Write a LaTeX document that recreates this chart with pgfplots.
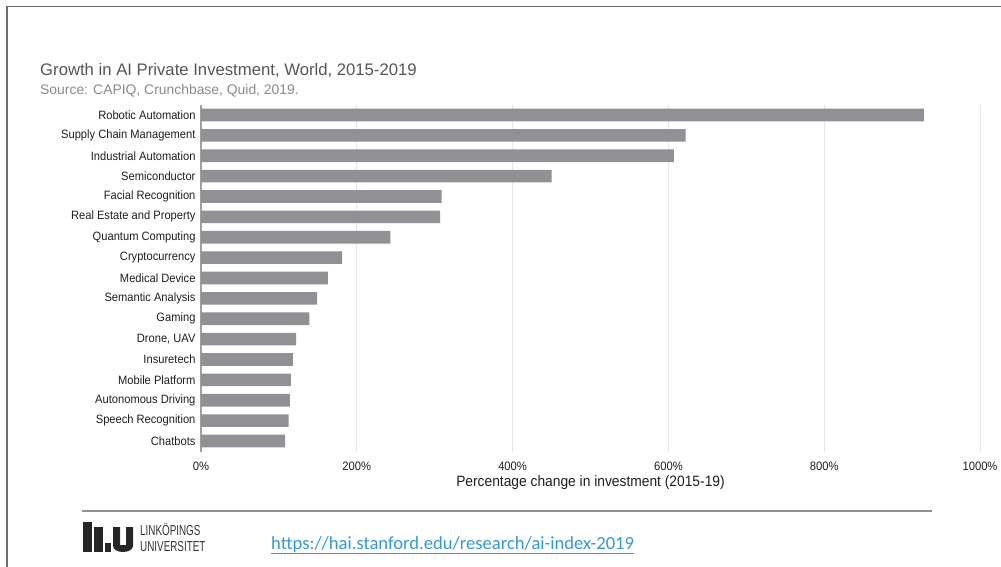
\documentclass[border=0pt]{standalone}
\usepackage{pgfplots}
\pgfplotsset{compat=1.18}
\usepackage{fontspec}
\setmainfont{Liberation Sans}
\newfontfamily\lblfont[FakeStretch=0.92]{Liberation Sans}
\newfontfamily\urlfont{Carlito}
\definecolor{bargray}{HTML}{909095}
\definecolor{gridgray}{HTML}{E6E6E6}
\definecolor{axisgray}{HTML}{A0A0A0}
\definecolor{titlegray}{HTML}{555555}
\definecolor{srcgray}{HTML}{8A8A8A}
\definecolor{labelblack}{HTML}{1E1E1E}
\definecolor{framegray}{HTML}{6E6E6E}
\definecolor{urlblue}{HTML}{3399D6}
\begin{document}
\begin{tikzpicture}
\useasboundingbox (0pt,0pt) rectangle (1001pt,-567pt);
% slide frame
\draw[framegray, line width=1.4pt] (7pt,-567pt) -- (7pt,-6.5pt) -- (1001pt,-6.5pt);
% title and source
\node[anchor=base west, inner sep=0, text=titlegray] at (40pt,-76pt)
  {\fontsize{16.7}{20}\selectfont Growth in AI Private Investment, World, 2015-2019};
\node[anchor=base west, inner sep=0, text=srcgray] at (40pt,-95pt)
  {\fontsize{13.9}{16}\selectfont Source: CAPIQ, Crunchbase, Quid, 2019.};
\begin{axis}[
  scale only axis,
  width=779pt, height=347pt,
  at={(201pt,-452pt)}, anchor=south west,
  xbar, bar width=12.7pt,
  xmin=0, xmax=1000,
  ymin=-0.54, ymax=16.49,
  xtick={0,200,400,600,800,1000},
  xticklabel={\pgfmathprintnumber[assume math mode=true, 1000 sep={}]{\tick}\%},
  xticklabel style={anchor=center, yshift=-14pt, font=\lblfont\fontsize{12.2}{13}\selectfont, text=labelblack},
  ytick={0,...,16},
  yticklabels={Chatbots,Speech Recognition,Autonomous Driving,Mobile Platform,Insuretech,{Drone, UAV},Gaming,Semantic Analysis,Medical Device,Cryptocurrency,Quantum Computing,Real Estate and Property,Facial Recognition,Semiconductor,Industrial Automation,Supply Chain Management,Robotic Automation},
  yticklabel style={font=\lblfont\fontsize{12.1}{13}\selectfont, text=labelblack, xshift=-2pt},
  major tick length=0pt,
  tick style={draw=none},
  axis line style={draw=none},
  xmajorgrids,
  grid style={gridgray, line width=1pt},
  extra x ticks={0},
  extra x tick labels={},
  extra x tick style={grid style={axisgray, line width=1.1pt}},
  xlabel={Percentage change in investment (2015-19)},
  xlabel style={at={(axis description cs:0.5,0)}, anchor=center, yshift=-31pt, font=\lblfont\fontsize{15}{16}\selectfont, text=labelblack},
  clip=false,
]
\addplot[fill=bargray, draw=none] coordinates {
 (108,0) (112.5,1) (114,2) (115.5,3) (118,4) (122,5) (139,6) (149,7) (163,8)
 (181,9) (243,10) (307,11) (309,12) (450,13) (607,14) (622,15) (928,16)
};
\end{axis}
% footer
\draw[axisgray!90!black, line width=1.2pt] (82pt,-511pt) -- (932pt,-511pt);
% logo
\fill[black!85] (83pt,-522pt) rectangle (92pt,-552pt);
\fill[black!85] (94pt,-527pt) rectangle (103pt,-552pt);
\fill[black!85] (105pt,-543pt) rectangle (111pt,-552pt);
\fill[black!85, even odd rule] (113pt,-527pt) -- (113pt,-546pt) arc[start angle=180, end angle=360, x radius=10pt, y radius=6pt] -- (133pt,-527pt) -- (126pt,-527pt) -- (126pt,-545pt) -- (120pt,-545pt) -- (120pt,-527pt) -- cycle;
\node[anchor=base west, inner sep=0, text=black!80] at (140pt,-535pt)
  {\scalebox{0.68}[1]{\fontsize{14.5}{14.5}\selectfont LINKÖPINGS}};
\node[anchor=base west, inner sep=0, text=black!80] at (140pt,-551pt)
  {\scalebox{0.68}[1]{\fontsize{14.5}{14.5}\selectfont UNIVERSITET}};
\node[anchor=base west, inner sep=0, text=urlblue] at (271pt,-549pt)
  {\urlfont\fontsize{18.6}{20}\selectfont \underline{https://hai.stanford.edu/research/ai-index-2019}};
\end{tikzpicture}
\end{document}
